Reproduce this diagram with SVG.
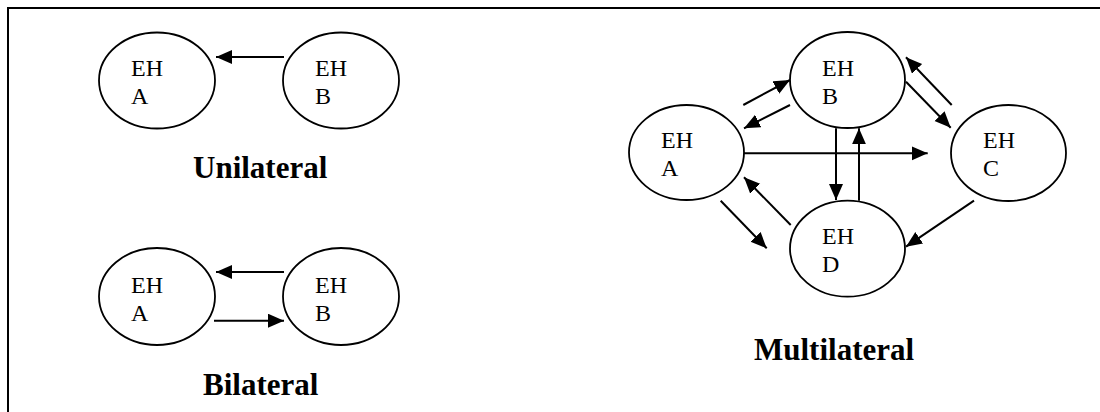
<svg xmlns="http://www.w3.org/2000/svg" width="1100" height="412" viewBox="0 0 1100 412">
<defs>
<marker id="ah" markerUnits="userSpaceOnUse" markerWidth="17" markerHeight="15" refX="16" refY="7" orient="auto">
<path d="M0,0 L16,7 L0,14 z" fill="#000"/>
</marker>
<style>
.node ellipse{fill:#fff;stroke:#000;stroke-width:1.8}
.node text{font-family:"Liberation Serif","Times New Roman",serif;font-size:24px;fill:#000}
.title{font-family:"Liberation Serif","Times New Roman",serif;font-size:31px;font-weight:bold;fill:#000}
#connectors line{stroke:#000;stroke-width:2;marker-end:url(#ah)}
.frame{stroke:#000;stroke-width:2;fill:none}
</style>
</defs>
<rect width="1100" height="412" fill="#fff"/>
<path class="frame" d="M8,413 L8,8 L1101,8"/>

<g id="uni-A" class="node"><ellipse cx="157" cy="80.5" rx="58" ry="48"/><text x="131" y="76">EH</text><text x="131" y="104">A</text></g>
<g id="uni-B" class="node"><ellipse cx="341" cy="80.5" rx="58" ry="48"/><text x="315" y="76">EH</text><text x="315" y="104">B</text></g>
<text class="title" x="193" y="178">Unilateral</text>

<g id="bi-A" class="node"><ellipse cx="157" cy="296.5" rx="58" ry="48.5"/><text x="131" y="292.5">EH</text><text x="131" y="320.5">A</text></g>
<g id="bi-B" class="node"><ellipse cx="341" cy="296.5" rx="58" ry="48.5"/><text x="315" y="292.5">EH</text><text x="315" y="320.5">B</text></g>
<text class="title" x="203" y="395">Bilateral</text>

<g id="multi-A" class="node"><ellipse cx="686.5" cy="152.5" rx="57.5" ry="47.5"/><text x="661" y="148">EH</text><text x="661" y="176">A</text></g>
<g id="multi-B" class="node"><ellipse cx="847.5" cy="80" rx="57.5" ry="48"/><text x="822" y="76">EH</text><text x="822" y="104">B</text></g>
<g id="multi-C" class="node"><ellipse cx="1008.5" cy="153" rx="57.5" ry="48"/><text x="983" y="148">EH</text><text x="983" y="176">C</text></g>
<g id="multi-D" class="node"><ellipse cx="847.5" cy="248.7" rx="57.5" ry="48"/><text x="822" y="244">EH</text><text x="822" y="272">D</text></g>
<text class="title" x="754" y="360">Multilateral</text>

<g id="connectors">
<line x1="284" y1="57" x2="216" y2="57"/>
<line x1="284" y1="272" x2="216" y2="272"/>
<line x1="214" y1="320.7" x2="284" y2="320.7"/>

<line x1="743.3" y1="105" x2="790" y2="80"/>
<line x1="790" y1="105" x2="744" y2="128.3"/>
<line x1="744" y1="153.3" x2="927.7" y2="153.3"/>
<line x1="836" y1="128.3" x2="836" y2="200"/>
<line x1="859" y1="200.7" x2="859" y2="128.3"/>
<line x1="951.7" y1="105" x2="906" y2="57.3"/>
<line x1="906" y1="81.7" x2="950.7" y2="127.7"/>
<line x1="790.7" y1="225" x2="744" y2="177.3"/>
<line x1="720.7" y1="200.7" x2="766.7" y2="248.3"/>
<line x1="974" y1="200.7" x2="906" y2="246.7"/>
</g>
</svg>
